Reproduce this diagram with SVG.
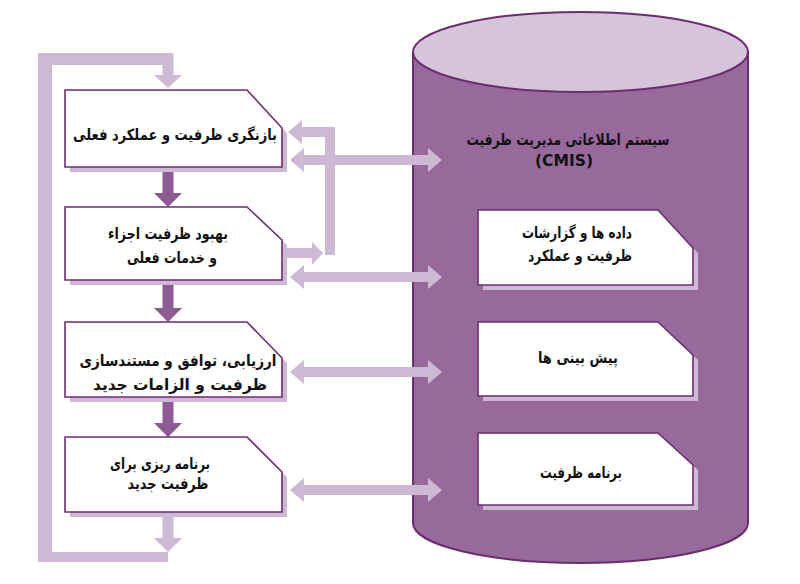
<svg xmlns="http://www.w3.org/2000/svg" xmlns:xlink="http://www.w3.org/1999/xlink" width="800" height="584" viewBox="0 0 800 584">
<defs>
<style>
.bg{fill:#ffffff}
.box{fill:#ffffff;stroke:#6b2d70;stroke-width:1.6}
.shadow{fill:#cdb9d3}
.light{fill:#cdb9d3}
.dark{fill:#8d5b93}
.cylbody{fill:#976a9b;stroke:#6b2d70;stroke-width:2}
.cyltop{fill:#d6c4da;stroke:#6b2d70;stroke-width:2}
.t{font-family:"DejaVu Sans",sans-serif;font-weight:bold;font-size:15.5px;fill:#111111;text-anchor:middle}
</style>
<path id="dbl" d="M290,0 L304,-12 L304,-5 L428,-5 L428,-12 L442,0 L428,12 L428,5 L304,5 L304,12 Z"/>
<path id="down" d="M162.5,0 L173.5,0 L173.5,26 L182,26 L168,40 L154,26 L162.5,26 Z"/>
</defs>
<rect class="bg" x="0" y="0" width="800" height="584"/>

<g id="cmis">
<path class="cylbody" d="M413,52 L413,523 A167.5,40 0 0 0 748,523 L748,52 Z"/>
<ellipse class="cyltop" cx="580.5" cy="52" rx="167.5" ry="40"/>
<text class="t" x="568" y="145" textLength="203" lengthAdjust="spacingAndGlyphs">سیستم اطلاعاتی مدیریت ظرفیت</text>
<text class="t" x="564" y="166" textLength="58" lengthAdjust="spacingAndGlyphs">(CMIS)</text>
</g>

<g id="connectors">
<!-- feedback loop -->
<path class="light" d="M38,53 L173.5,53 L173.5,75 L182,75 L168,88 L154,75 L162.5,75 L162.5,65 L52,65 L52,552 L168,552 L168,562 L38,562 Z"/>
<path class="light" d="M162.5,512 L173.5,512 L173.5,538 L182,538 L168,552 L154,538 L162.5,538 Z"/>
<!-- down arrows -->
<use href="#down" class="dark" transform="translate(0,167)"/>
<use href="#down" class="dark" transform="translate(0,282)"/>
<use href="#down" class="dark" transform="translate(0,397)"/>
<!-- L connector from box B to box A -->
<path class="light" d="M288,132 L302,120 L302,127 L335,127 L335,255 L325,255 L325,137 L302,137 L302,144 Z"/>
<path class="light" d="M287,248 L312,248 L312,242 L323,253 L312,265 L312,258 L287,258 Z"/>
<!-- double arrows -->
<use href="#dbl" class="light" transform="translate(0,160)"/>
<use href="#dbl" class="light" transform="translate(0,277)"/>
<use href="#dbl" class="light" transform="translate(0,372)"/>
<use href="#dbl" class="light" transform="translate(0,490)"/>
</g>

<g id="n1">
<path class="shadow" d="M70,95 L252,95 L287,133 L287,172 L70,172 Z"/>
<path class="box" d="M65,90 L247,90 L282,128 L282,167 L65,167 Z"/>
<text class="t" x="175" y="140" textLength="204" lengthAdjust="spacingAndGlyphs">بازنگری ظرفیت و عملکرد  فعلی</text>
</g>
<g id="n2">
<path class="shadow" d="M70,212 L252,212 L287,245 L287,285 L70,285 Z"/>
<path class="box" d="M65,207 L247,207 L282,240 L282,280 L65,280 Z"/>
<text class="t" x="168" y="239" textLength="120" lengthAdjust="spacingAndGlyphs">بهبود ظرفیت اجزاء</text>
<text class="t" x="172" y="263" textLength="90" lengthAdjust="spacingAndGlyphs">و خدمات فعلی</text>
</g>
<g id="n3">
<path class="shadow" d="M70,327 L252,327 L287,363 L287,402 L70,402 Z"/>
<path class="box" d="M65,322 L247,322 L282,358 L282,397 L65,397 Z"/>
<text class="t" x="178" y="366" textLength="197" lengthAdjust="spacingAndGlyphs">ارزیابی، توافق و مستندسازی</text>
<text class="t" x="180" y="390" textLength="174" lengthAdjust="spacingAndGlyphs">ظرفیت و الزامات جدید</text>
</g>
<g id="n4">
<path class="shadow" d="M70,442 L252,442 L287,477 L287,517 L70,517 Z"/>
<path class="box" d="M65,437 L247,437 L282,472 L282,512 L65,512 Z"/>
<text class="t" x="160" y="469" textLength="100" lengthAdjust="spacingAndGlyphs">برنامه ریزی برای</text>
<text class="t" x="168" y="489" textLength="81" lengthAdjust="spacingAndGlyphs">ظرفیت جدید</text>
</g>

<g id="r1">
<path class="shadow" d="M483,215 L663,215 L698,253 L698,290 L483,290 Z"/>
<path class="box" d="M478,210 L658,210 L693,248 L693,285 L478,285 Z"/>
<text class="t" x="577" y="238" textLength="110" lengthAdjust="spacingAndGlyphs">داده ها و گزارشات</text>
<text class="t" x="580" y="261" textLength="104" lengthAdjust="spacingAndGlyphs">ظرفیت و عملکرد</text>
</g>
<g id="r2">
<path class="shadow" d="M483,327 L663,327 L698,360 L698,401 L483,401 Z"/>
<path class="box" d="M478,322 L658,322 L693,355 L693,396 L478,396 Z"/>
<text class="t" x="578" y="363" textLength="80" lengthAdjust="spacingAndGlyphs">پیش بینی ها</text>
</g>
<g id="r3">
<path class="shadow" d="M483,438 L663,438 L698,470 L698,510 L483,510 Z"/>
<path class="box" d="M478,433 L658,433 L693,465 L693,505 L478,505 Z"/>
<text class="t" x="581" y="478" textLength="82" lengthAdjust="spacingAndGlyphs">برنامه ظرفیت</text>
</g>
</svg>
